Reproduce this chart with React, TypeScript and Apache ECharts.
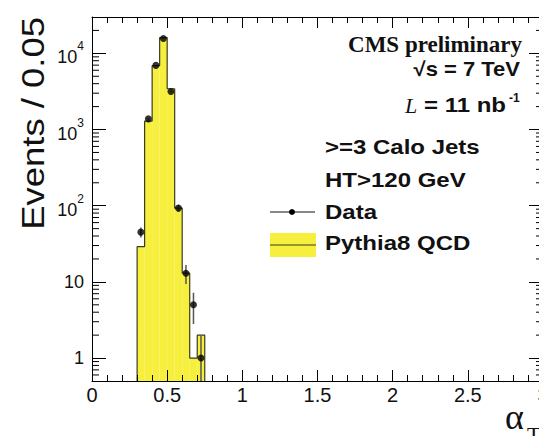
import React, { useEffect, useRef } from 'react';
import * as echarts from 'echarts';

// Histogram bins (alpha_T), width 0.05
const binLow = [0.30, 0.35, 0.40, 0.45, 0.50, 0.55, 0.60, 0.65, 0.70];
const binWidth = 0.05;
// Pythia8 QCD expectation per bin
const mcValues = [29, 1290, 6900, 16100, 3430, 93, 13, 1, 2];
// Data points (bin centres), counts and errors
const dataX = [0.325, 0.375, 0.425, 0.475, 0.525, 0.575, 0.625, 0.675, 0.725];
const dataValues = [45, 1380, 6950, 15700, 3160, 93, 13, 5, 1];
const dataErrors = [6.7, 37, 83, 125, 56, 9.6, 3.6, 2.2, 1];

// Axes
const xMin = 0;
const xMax = 3;
const xInterval = 0.5;
const yMin = 0.5;
const yMax = 30000;
const decades = [0.1, 1, 10, 100, 1000, 10000];
const minorMultipliers = [2, 3, 4, 5, 6, 7, 8, 9];

const SANS = '"Liberation Sans", Arial, Helvetica, sans-serif';
const SERIF = '"Liberation Serif", "Times New Roman", serif';
const YELLOW = '#F7EF3E';
const OUTLINE = '#3b3a22';

export default function App() {
  const ref = useRef<HTMLDivElement>(null);

  useEffect(() => {
    if (!ref.current) return;
    const chart = echarts.init(ref.current, undefined, { renderer: 'svg' });

    const binData = binLow.map((lo, i) => [lo, lo + binWidth, mcValues[i]]);
    const outline: number[][] = [[binLow[0], yMin]];
    binLow.forEach((lo, i) => {
      outline.push([lo, mcValues[i]]);
      outline.push([lo + binWidth, mcValues[i]]);
    });
    outline.push([binLow[binLow.length - 1] + binWidth, yMin]);

    const errData = dataX.map((x, i) => [
      x,
      Math.max(dataValues[i] - dataErrors[i], yMin),
      dataValues[i] + dataErrors[i],
    ]);

    const minorTicks: number[][] = [];
    decades.forEach((d) => {
      minorMultipliers.forEach((m) => {
        const v = d * m;
        if (v > yMin && v < yMax) minorTicks.push([xMin, v]);
      });
    });

    const gridLeft = 92;
    const gridTop = 17;
    const gridWidth = 451;
    const gridHeight = 364;

    const yLabelFmt = (v: number) => {
      const k = Math.round(Math.log10(v));
      if (k === 0) return '1';
      if (k === 1) return '10';
      return '{b|10}{s|' + k + '}';
    };

    const commonX = {
      type: 'value' as const,
      min: xMin,
      max: xMax,
      interval: xInterval,
      z: 10,
      splitLine: { show: false },
      axisLine: { show: true, onZero: false, lineStyle: { color: '#000', width: 1 } },
      axisTick: { show: true, inside: true, length: 11, lineStyle: { color: '#000', width: 1 } },
      minorTick: { show: true, splitNumber: 5, length: 6, lineStyle: { color: '#000', width: 1 } },
      minorSplitLine: { show: false },
    };

    const commonY = {
      type: 'log' as const,
      min: yMin,
      max: yMax,
      logBase: 10,
      z: 10,
      splitLine: { show: false },
      axisLine: { show: true, onZero: false, lineStyle: { color: '#000', width: 1 } },
      axisTick: { show: true, inside: true, length: 14, lineStyle: { color: '#000', width: 1 } },
    };

    const txt = (x: number, y: number, text: string, font: any, align = 'left', scaleX = 1) => ({
      type: 'text',
      x,
      y,
      scaleX,
      style: { text, fill: '#111', align, verticalAlign: 'middle', ...font },
    });
    const boldSans = { fontSize: 20, fontWeight: 'bold', fontFamily: SANS };

    chart.setOption({
      animation: false,
      backgroundColor: '#fff',
      grid: {
        left: gridLeft,
        top: gridTop,
        width: gridWidth,
        height: gridHeight,
        containLabel: false,
        outerBoundsMode: 'none',
      },
      xAxis: [
        {
          ...commonX,
          position: 'bottom',
          axisLabel: {
            show: true,
            margin: 4,
            fontSize: 20,
            fontFamily: SANS,
            color: '#111',
            formatter: (v: number) => String(v),
          },
        },
        {
          ...commonX,
          position: 'top',
          axisLabel: { show: false },
        },
      ],
      yAxis: [
        {
          ...commonY,
          position: 'left',
          axisLabel: {
            show: true,
            margin: 8,
            fontSize: 18,
            fontFamily: SANS,
            color: '#111',
            showMinLabel: false,
            showMaxLabel: false,
            formatter: yLabelFmt,
            rich: {
              b: { fontSize: 18, fontFamily: SANS, color: '#111', lineHeight: 26, verticalAlign: 'bottom' },
              s: { fontSize: 12, fontFamily: SANS, color: '#111', lineHeight: 14, verticalAlign: 'top' },
            },
          },
        },
        {
          ...commonY,
          position: 'right',
          axisLabel: { show: false },
        },
      ],
      series: [
        {
          type: 'custom',
          name: 'Pythia8 QCD fill',
          coordinateSystem: 'cartesian2d',
          xAxisIndex: 0,
          yAxisIndex: 0,
          silent: true,
          z: 1,
          encode: { x: [0, 1], y: 2 },
          data: binData,
          renderItem: (params: any, api: any) => {
            const lo = api.value(0);
            const hi = api.value(1);
            const v = api.value(2);
            const p1 = api.coord([lo, v]);
            const p2 = api.coord([hi, yMin]);
            return {
              type: 'rect',
              shape: { x: p1[0], y: p1[1], width: p2[0] - p1[0], height: p2[1] - p1[1] },
              style: { fill: YELLOW, stroke: 'none' },
            };
          },
        },
        {
          type: 'line',
          name: 'Pythia8 QCD',
          xAxisIndex: 0,
          yAxisIndex: 0,
          data: outline,
          symbol: 'none',
          silent: true,
          z: 2,
          lineStyle: { color: OUTLINE, width: 1.2 },
        },
        {
          type: 'custom',
          name: 'Data errors',
          coordinateSystem: 'cartesian2d',
          xAxisIndex: 0,
          yAxisIndex: 0,
          silent: true,
          z: 3,
          encode: { x: 0, y: [1, 2] },
          data: errData,
          renderItem: (params: any, api: any) => {
            const x = api.value(0);
            const a = api.coord([x, api.value(1)]);
            const b = api.coord([x, api.value(2)]);
            return {
              type: 'line',
              shape: { x1: a[0], y1: a[1], x2: b[0], y2: b[1] },
              style: { stroke: '#555', lineWidth: 1.5 },
            };
          },
        },
        {
          type: 'scatter',
          name: 'Data',
          xAxisIndex: 0,
          yAxisIndex: 0,
          z: 4,
          symbol: 'circle',
          symbolSize: 7,
          itemStyle: { color: '#000' },
          data: dataX.map((x, i) => [x, dataValues[i]]),
        },
        {
          type: 'custom',
          name: 'minor ticks',
          coordinateSystem: 'cartesian2d',
          xAxisIndex: 0,
          yAxisIndex: 0,
          silent: true,
          clip: false,
          z: 11,
          encode: { x: 0, y: 1 },
          data: minorTicks,
          renderItem: (params: any, api: any) => {
            const v = api.value(1);
            const l = api.coord([xMin, v]);
            const r = api.coord([xMax, v]);
            return {
              type: 'group',
              children: [
                { type: 'line', shape: { x1: l[0], y1: l[1], x2: l[0] + 7, y2: l[1] }, style: { stroke: '#000', lineWidth: 1 } },
                { type: 'line', shape: { x1: r[0] - 7, y1: r[1], x2: r[0], y2: r[1] }, style: { stroke: '#000', lineWidth: 1 } },
              ],
            };
          },
        },
      ],
      graphic: [
        {
          type: 'text',
          x: 33,
          y: 17,
          rotation: Math.PI / 2,
          scaleX: 1.14,
          style: {
            text: 'Events / 0.05',
            fontSize: 32,
            fontFamily: SANS,
            fill: '#111',
            align: 'right',
            verticalAlign: 'middle',
          },
        },
        txt(505, 417, 'α', { fontSize: 36, fontFamily: SERIF }),
        txt(527, 434, 'T', { fontSize: 22, fontFamily: SERIF }),
        txt(522, 44, 'CMS preliminary', { fontSize: 23, fontWeight: 'bold', fontFamily: SERIF }, 'right'),
        txt(520, 69, '√s = 7 TeV', boldSans, 'right', 1.1),
        txt(405, 105, 'L', { fontSize: 22, fontStyle: 'italic', fontFamily: SERIF }),
        txt(424, 105, '= 11 nb', boldSans, 'left', 1.2),
        txt(509, 98, '-1', { fontSize: 12, fontWeight: 'bold', fontFamily: SANS }),
        txt(325, 147, '>=3 Calo Jets', boldSans, 'left', 1.2),
        txt(325, 180, 'HT>120 GeV', boldSans, 'left', 1.2),
        txt(325, 212, 'Data', boldSans, 'left', 1.2),
        txt(325, 243, 'Pythia8 QCD', boldSans, 'left', 1.2),
        {
          type: 'line',
          shape: { x1: 270, y1: 212, x2: 315, y2: 212 },
          style: { stroke: '#111', lineWidth: 1 },
        },
        {
          type: 'circle',
          shape: { cx: 292, cy: 212, r: 3 },
          style: { fill: '#000' },
        },
        {
          type: 'rect',
          shape: { x: 270, y: 233, width: 46, height: 24 },
          style: { fill: YELLOW },
        },
        {
          type: 'line',
          shape: { x1: 270, y1: 245, x2: 316, y2: 245 },
          style: { stroke: OUTLINE, lineWidth: 1.2 },
        },
      ],
    });

    return () => {
      chart.dispose();
    };
  }, []);

  return (
    <div
      ref={ref}
      style={{ position: 'fixed', left: 0, top: 0, width: 550, height: 436, background: '#fff' }}
    />
  );
}
